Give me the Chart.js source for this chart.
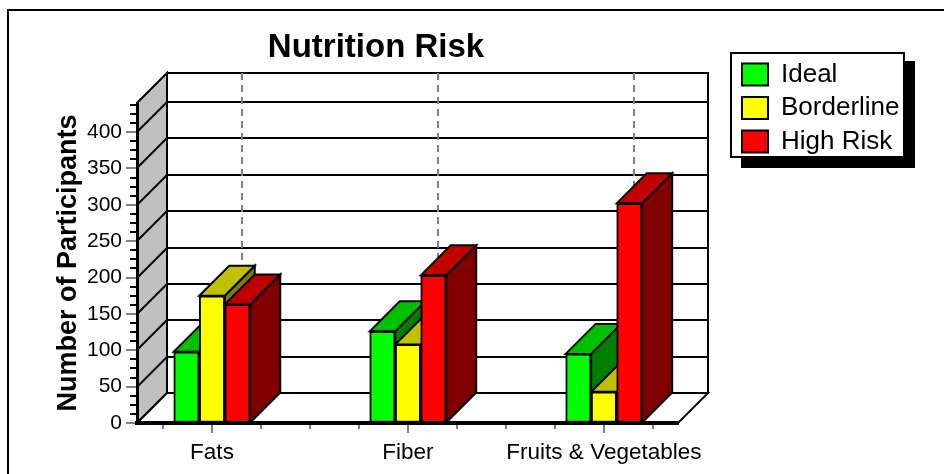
<!DOCTYPE html>
<html>
<head>
<meta charset="utf-8">
<style>
html, body { margin: 0; padding: 0; background: #fff; }
#wrap { width: 944px; height: 474px; }
</style>
<script src="https://cdn.jsdelivr.net/npm/chart.js@4"></script>
</head>
<body>
<div id="wrap"><canvas id="chart" width="944" height="474"></canvas></div>
<script>
// Data
const categories = ['Fats', 'Fiber', 'Fruits & Vegetables'];
const ideal = [98, 126, 95];
const borderline = [175, 108, 43];
const highRisk = [163, 203, 302];

const seriesNames = ['Ideal', 'Borderline', 'High Risk'];
const frontColors = ['#00ff00', '#ffff00', '#ff0000'];
const topColors = ['#00c000', '#c0c000', '#c00000'];
const sideColors = ['#008000', '#808000', '#800000'];

// --- 3D depth of the box ---
const depthX = 30;
const depthY = 30;

function poly(ctx, pts, fill) {
    ctx.beginPath();
    pts.forEach((p, i) => i ? ctx.lineTo(p[0], p[1]) : ctx.moveTo(p[0], p[1]));
    ctx.closePath();
    if (fill) { ctx.fillStyle = fill; ctx.fill(); }
    ctx.stroke();
}

function line(ctx, x1, y1, x2, y2) {
    ctx.beginPath();
    ctx.moveTo(x1, y1);
    ctx.lineTo(x2, y2);
    ctx.stroke();
}

const box3d = {
    id: 'box3d',
    // page frame, legend panel, walls, floor and grid go under the axes
    beforeDraw(chart) {
        const ctx = chart.ctx;
        const { left, right, top, bottom } = chart.chartArea;
        const x = chart.scales.x, y = chart.scales.y;
        ctx.save();
        ctx.strokeStyle = '#000';
        ctx.lineWidth = 2;
        line(ctx, 8, 474, 8, 10);
        line(ctx, 7, 10, 944, 10);
        ctx.fillStyle = '#000';
        ctx.fillRect(741, 61, 174, 107);
        ctx.fillStyle = '#fff';
        ctx.fillRect(731, 53, 173, 104);
        ctx.strokeRect(731, 53, 173, 104);

        poly(ctx, [[left, top], [left + depthX, top - depthY], [left + depthX, bottom - depthY], [left, bottom]], '#c0c0c0');
        poly(ctx, [[left + depthX, top - depthY], [right + depthX, top - depthY], [right + depthX, bottom - depthY], [left + depthX, bottom - depthY]], '#fff');
        poly(ctx, [[left, bottom], [left + depthX, bottom - depthY], [right + depthX, bottom - depthY], [right, bottom]], '#fff');
        y.ticks.forEach(t => {
            if (t.value % 50 !== 0 || t.value === 0) return;
            const py = Math.round(y.getPixelForValue(t.value));
            line(ctx, left, py, left + depthX, py - depthY);
            line(ctx, left + depthX, py - depthY, right + depthX, py - depthY);
        });
        ctx.strokeStyle = '#808080';
        ctx.setLineDash([7, 5]);
        categories.forEach((c, i) => {
            const px = Math.round(x.getPixelForValue(i)) + depthX;
            line(ctx, px, top - depthY, px, bottom - depthY);
        });
        ctx.setLineDash([]);

        // tick marks
        y.ticks.forEach(t => {
            const py = Math.round(y.getPixelForValue(t.value));
            const major = t.value % 50 === 0;
            ctx.strokeStyle = major ? '#808080' : '#000';
            line(ctx, left - (major ? 11 : 7), py, left, py);
        });
        ctx.strokeStyle = '#808080';
        x.ticks.forEach(t => {
            const px = Math.round(x.getPixelForValue(t.value));
            line(ctx, px, bottom, px, bottom + (Number.isInteger(t.value) ? 10 : 6));
        });
        ctx.restore();
    },
    // green first, red last, each side and top under its own front face
    beforeDatasetsDraw(chart) {
        const ctx = chart.ctx;
        ctx.save();
        ctx.strokeStyle = '#000';
        ctx.lineWidth = 2;
        chart.data.datasets.forEach((ds, i) => {
            const meta = chart.getDatasetMeta(i);
            meta.data.forEach(bar => {
                const l = bar.x - bar.width / 2, r = bar.x + bar.width / 2;
                poly(ctx, [[r, bar.y], [r + depthX, bar.y - depthY], [r + depthX, bar.base - depthY], [r, bar.base]], sideColors[i]);
                poly(ctx, [[l, bar.y], [l + depthX, bar.y - depthY], [r + depthX, bar.y - depthY], [r, bar.y]], topColors[i]);
            });
            meta.controller.draw();
        });
        ctx.restore();
        return false;
    },
    // move legend and title where the reference has them
    afterLayout(chart) {
        const lg = chart.legend;
        lg.left = 734.5; lg.right = 904; lg.top = 54; lg.bottom = 300;
        const t = chart.titleBlock;
        t.left = 137; t.right = 615;
    }
};

Chart.defaults.font.family = '"Liberation Sans", Arial, sans-serif';
Chart.defaults.color = '#000';

function makeSeries(i, values) {
    return {
        label: seriesNames[i],
        data: values.map((v, k) => ({ x: k, y: v })),
        backgroundColor: frontColors[i],
        borderColor: '#000',
        borderWidth: 2,
        borderSkipped: false,
        barThickness: 25.5
    };
}

new Chart(document.getElementById('chart'), {
    type: 'bar',
    data: {
        datasets: [makeSeries(0, ideal), makeSeries(1, borderline), makeSeries(2, highRisk)]
    },
    plugins: [box3d],
    options: {
        responsive: false,
        animation: false,
        layout: { autoPadding: false, padding: { left: 10, top: 10, right: 166, bottom: 0 } },
        plugins: {
            tooltip: { enabled: false },
            title: {
                display: true,
                text: 'Nutrition Risk',
                font: { size: 33, weight: 'bold' },
                color: '#000',
                padding: { top: 18, bottom: 35.4 }
            },
            legend: {
                position: 'right',
                align: 'start',
                maxWidth: 100,
                labels: {
                    boxWidth: 26,
                    boxHeight: 22,
                    padding: 7.5,
                    color: '#000',
                    font: { size: 26, lineHeight: 1 }
                }
            }
        },
        scales: {
            x: {
                type: 'linear',
                offset: false,
                min: -0.3827,
                max: 2.378,
                afterFit(s) { s.height = 51; },
                grid: { offset: false, drawOnChartArea: false, drawTicks: false },
                border: { color: '#000', width: 4 },
                ticks: {
                    stepSize: 0.25,
                    includeBounds: false,
                    autoSkip: false,
                    maxRotation: 0,
                    padding: 16,
                    font: { size: 22.5 },
                    callback: v => Number.isInteger(v) ? categories[v] : ''
                }
            },
            y: {
                min: 0,
                max: 440,
                afterFit(s) { s.width = 127; },
                grid: { drawOnChartArea: false, drawTicks: false },
                border: { color: '#000', width: 3 },
                title: {
                    display: true,
                    text: 'Number of Participants',
                    font: { size: 27, weight: 'bold' },
                    color: '#000',
                    padding: { top: 42, bottom: 0 }
                },
                ticks: {
                    stepSize: 12.5,
                    includeBounds: false,
                    autoSkip: false,
                    padding: 15,
                    font: { size: 21 },
                    callback: v => (v % 50 === 0 && v <= 400) ? v : ''
                }
            }
        }
    }
});
</script>
</body>
</html>
